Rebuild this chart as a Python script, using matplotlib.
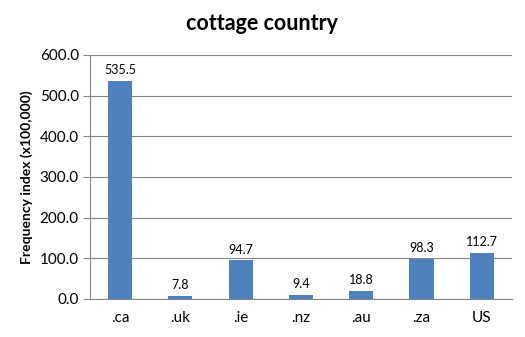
import numpy as np
import matplotlib.pyplot as plt

plt.rcParams['font.family'] = ['Lato', 'DejaVu Sans']

# data
categories = ['.ca', '.uk', '.ie', '.nz', '.au', '.za', 'US']
values = [535.5, 7.8, 94.7, 9.4, 18.8, 98.3, 112.7]

fig = plt.figure(figsize=(5.25, 3.37), dpi=100)
ax = fig.add_axes([0.1714, 0.1128, 0.8036, 0.724])

x = np.arange(len(categories))
bars = ax.bar(x, values, width=0.4, color='#4F81BD', zorder=3)
for xi, v in zip(x, values):
    ax.text(xi, v + 12, f'{v:.1f}', ha='center', va='bottom', fontsize=9)

ax.set_xlim(-0.5, len(categories) - 0.5)
ax.set_ylim(0, 600)
ax.set_yticks(np.arange(0, 601, 100))
ax.set_yticklabels([f'{t:.1f}' for t in np.arange(0, 601, 100)], fontsize=11)
ax.set_xticks(x)
ax.set_xticklabels(categories, fontsize=11)
ax.tick_params(axis='x', length=0, pad=9)
ax.tick_params(axis='y', length=5, color='#868686', pad=3)
ax.yaxis.grid(True, color='#868686', linewidth=0.8, zorder=0)

for side in ['top', 'right']:
    ax.spines[side].set_visible(False)
for side in ['left', 'bottom']:
    ax.spines[side].set_color('#868686')

ax.set_ylabel('Frequency index (x100,000)', fontsize=10, fontweight='bold', labelpad=5)
fig.text(0.5, 0.93, 'cottage country', ha='center', va='center', fontsize=15.5, fontweight='bold')

fig.savefig('out.png', dpi=100)
